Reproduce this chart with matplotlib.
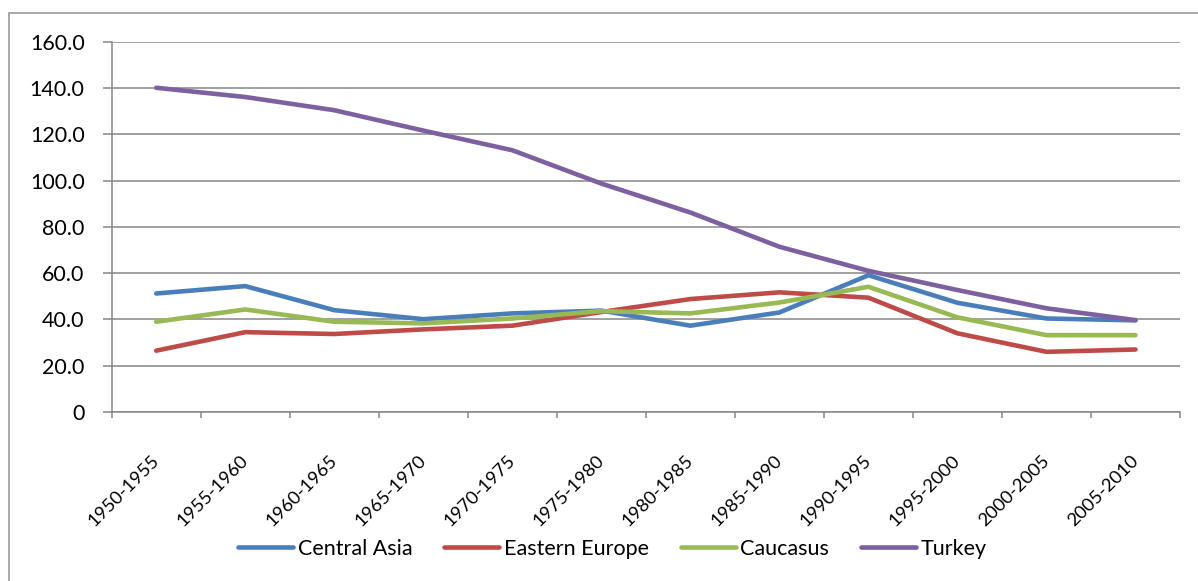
import matplotlib.pyplot as plt
from matplotlib.patches import Rectangle

# Data
periods = ['1950-1955', '1955-1960', '1960-1965', '1965-1970', '1970-1975', '1975-1980',
           '1980-1985', '1985-1990', '1990-1995', '1995-2000', '2000-2005', '2005-2010']
central_asia = [51.2, 54.4, 44.0, 40.1, 42.6, 43.8, 37.3, 43.0, 59.1, 47.2, 40.4, 39.6]
eastern_europe = [26.5, 34.5, 33.7, 35.7, 37.3, 43.2, 48.8, 51.7, 49.4, 34.0, 26.0, 27.0]
caucasus = [39.0, 44.3, 39.0, 38.3, 40.4, 43.6, 42.6, 47.3, 54.1, 40.9, 33.2, 33.2]
turkey = [140.1, 136.1, 130.4, 121.6, 113.1, 98.7, 86.2, 71.4, 61.0, 52.7, 44.8, 39.7]

series = [('Central Asia', central_asia, '#4A7EBB'),
          ('Eastern Europe', eastern_europe, '#BE4B48'),
          ('Caucasus', caucasus, '#98B954'),
          ('Turkey', turkey, '#7D60A0')]

plt.rcParams['font.family'] = ['Lato', 'DejaVu Sans']
grey = '#868686'

W, H = 1198, 581
fig = plt.figure(figsize=(W / 100, H / 100), dpi=100)
ax = fig.add_axes([111.7 / W, 1 - 412 / H, (1180 - 111.7) / W, (412 - 41.7) / H])

# outer chart border (only top and left edges are inside the picture)
fig.patches.append(Rectangle((8.7 / W, -0.05), 1.5, 1.05 - 12.7 / H, transform=fig.transFigure,
                             fill=False, edgecolor='#9a9a9a', linewidth=1.2))

x = list(range(len(periods)))
for name, vals, col in series:
    ax.plot(x, vals, color=col, linewidth=3.3, solid_capstyle='round',
            solid_joinstyle='round', label=name)

ax.set_xlim(-0.5, len(periods) - 0.5)
ax.set_ylim(0, 160)
ax.set_yticks(range(0, 161, 20))
ax.set_yticklabels(['0'] + ['%.1f' % v for v in range(20, 161, 20)])
ax.yaxis.grid(True, color=grey, linewidth=1.1)
ax.set_axisbelow(True)

ax.set_xticks(x)
ax.set_xticklabels(periods, rotation=45, ha='right', va='center', rotation_mode='anchor')
ax.set_xticks([i - 0.5 for i in range(len(periods) + 1)], minor=True)
ax.tick_params(axis='x', which='major', length=0, pad=33, labelsize=13.3)
ax.tick_params(axis='x', which='minor', length=4.5, width=1.1, color=grey, direction='out')
ax.tick_params(axis='y', length=6.5, width=1.1, color=grey, pad=13, labelsize=15.5)

for s in ['top', 'right']:
    ax.spines[s].set_visible(False)
for s in ['left', 'bottom']:
    ax.spines[s].set_color(grey)
    ax.spines[s].set_linewidth(1.1)

fig.legend(loc='center', bbox_to_anchor=(612.5 / W, 1 - 549 / H), ncol=4, frameon=False,
           fontsize=15.5, handlelength=2.55, handletextpad=0.2, columnspacing=1.5)

fig.savefig('out.png', dpi=100)
